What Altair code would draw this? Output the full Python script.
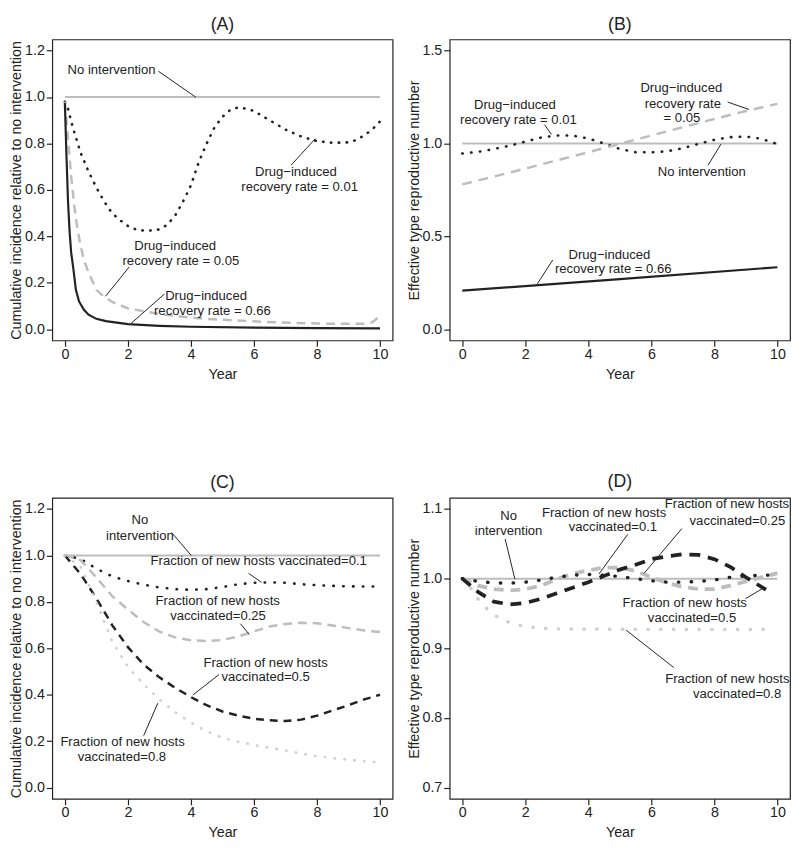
import altair as alt
import pandas as pd

FONT = "Liberation Sans"
INK = "#222222"
GREY = "#bdbdbd"
LIGHT = "#cfcfcf"

YEAR_TICKS = [0, 2, 4, 6, 8, 10]
X_DOMAIN = [-0.4, 10.4]

# ---------------- Panel A: cumulative incidence, drug treatment ----------------
A_none_x = [0, 10]
A_none_y = [1.0, 1.0]
A_r001_x = [0, 0.1, 0.25, 0.5, 0.75, 1.0, 1.25, 1.5, 1.75, 2.0, 2.25, 2.5, 2.75, 3.0, 3.25, 3.5,
            3.75, 4.0, 4.25, 4.5, 4.75, 5.0, 5.25, 5.5, 5.75, 6.0, 6.25, 6.5, 6.75, 7.0, 7.25, 7.5,
            7.75, 8.0, 8.5, 9.0, 9.25, 9.5, 9.75, 10.0]
A_r001_y = [0.98, 0.95, 0.87, 0.76, 0.68, 0.61, 0.55, 0.50, 0.47, 0.445, 0.43, 0.425, 0.425, 0.43,
            0.45, 0.49, 0.55, 0.62, 0.72, 0.80, 0.87, 0.915, 0.945, 0.955, 0.95, 0.94, 0.92, 0.90,
            0.88, 0.86, 0.845, 0.83, 0.82, 0.81, 0.803, 0.805, 0.815, 0.835, 0.86, 0.895]
A_r005_x = [0, 0.1, 0.2, 0.3, 0.4, 0.5, 0.6, 0.75, 1.0, 1.25, 1.5, 2.0, 2.5, 3.2, 4.25, 5.3, 6.35,
            7.4, 8.4, 9.45, 9.75, 10.0]
A_r005_y = [0.98, 0.82, 0.66, 0.53, 0.43, 0.36, 0.30, 0.245, 0.17, 0.14, 0.118, 0.09, 0.078, 0.062,
            0.047, 0.039, 0.032, 0.027, 0.024, 0.024, 0.03, 0.058]
A_r066_x = [0, 0.05, 0.1, 0.15, 0.2, 0.27, 0.35, 0.45, 0.6, 0.75, 1.0, 1.3, 2.0, 3.0, 4.0, 6.0, 8.0, 10.0]
A_r066_y = [0.975, 0.75, 0.55, 0.42, 0.33, 0.26, 0.17, 0.12, 0.085, 0.063, 0.045, 0.035, 0.022, 0.015,
            0.011, 0.007, 0.005, 0.004]
A_lbl_text = ["No intervention", "Drug−induced", "recovery rate = 0.01", "Drug−induced",
              "recovery rate = 0.05", "Drug−induced", "recovery rate = 0.66"]
A_lbl_x = [1.48, 7.33, 7.45, 3.5, 3.68, 4.48, 4.68]
A_lbl_y = [1.118, 0.676, 0.612, 0.358, 0.293, 0.145, 0.079]
A_ldr_x1 = [2.97, 7.95, 2.04, 3.16]
A_ldr_y1 = [1.111, 0.821, 0.268, 0.152]
A_ldr_x2 = [4.16, 7.18, 1.29, 2.09]
A_ldr_y2 = [0.999, 0.707, 0.142, 0.024]

# ---------------- Panel B: effective reproductive number, drug treatment ----------------
B_none_x = [0, 10]
B_none_y = [1.0, 1.0]
B_r001_x = [0, 0.5, 1, 1.5, 2, 2.5, 3, 3.5, 4, 4.5, 5, 5.5, 6, 6.5, 7, 7.5, 8, 8.5, 9, 9.5, 10]
B_r001_y = [0.946, 0.955, 0.97, 0.988, 1.01, 1.032, 1.043, 1.043, 1.027, 1.0, 0.971, 0.953, 0.952,
            0.958, 0.975, 0.998, 1.02, 1.034, 1.037, 1.025, 0.997]
B_r005_x = [0, 1, 2, 3, 4, 5, 6, 7, 8, 9, 10]
B_r005_y = [0.78, 0.822, 0.865, 0.909, 0.953, 0.998, 1.043, 1.088, 1.132, 1.175, 1.213]
B_r066_x = [0, 5, 10]
B_r066_y = [0.208, 0.27, 0.334]
B_lbl_text = ["Drug−induced", "recovery rate = 0.01", "Drug−induced", "recovery rate", "= 0.05",
              "No intervention", "Drug−induced", "recovery rate = 0.66"]
B_lbl_x = [1.67, 1.78, 6.95, 7.0, 6.97, 7.6, 4.67, 4.79]
B_lbl_y = [1.206, 1.124, 1.298, 1.214, 1.136, 0.845, 0.402, 0.322]
B_ldr_x1 = [2.61, 8.42, 7.8, 2.87]
B_ldr_y1 = [1.101, 1.223, 0.883, 0.373]
B_ldr_x2 = [2.83, 9.1, 8.21, 2.38]
B_ldr_y2 = [1.049, 1.183, 0.997, 0.244]

# ---------------- Panel C: cumulative incidence, vaccination ----------------
HALF = [0, 0.5, 1, 1.5, 2, 2.5, 3, 3.5, 4, 4.5, 5, 5.5, 6, 6.5, 7, 7.5, 8, 8.5, 9, 9.5, 10]
C_none_x = [0, 10]
C_none_y = [1.0, 1.0]
C_v01_y = [1.0, 0.985, 0.943, 0.91, 0.89, 0.874, 0.862, 0.855, 0.852, 0.855, 0.864, 0.876, 0.882,
           0.884, 0.882, 0.876, 0.872, 0.869, 0.867, 0.866, 0.866]
C_v025_y = [1.0, 0.98, 0.905, 0.825, 0.767, 0.713, 0.672, 0.647, 0.635, 0.631, 0.636, 0.651, 0.673,
            0.694, 0.705, 0.71, 0.708, 0.698, 0.687, 0.677, 0.67]
C_v05_y = [1.0, 0.92, 0.815, 0.70, 0.605, 0.53, 0.475, 0.43, 0.39, 0.355, 0.328, 0.31, 0.297, 0.29,
           0.287, 0.293, 0.31, 0.333, 0.355, 0.38, 0.40]
C_v08_y = [1.0, 0.95, 0.80, 0.63, 0.52, 0.445, 0.38, 0.325, 0.28, 0.243, 0.215, 0.198, 0.184, 0.171,
           0.16, 0.147, 0.135, 0.127, 0.12, 0.114, 0.109]
C_lbl_text = ["No", "intervention", "Fraction of new hosts vaccinated=0.1", "Fraction of new hosts",
              "vaccinated=0.25", "Fraction of new hosts", "vaccinated=0.5", "Fraction of new hosts",
              "vaccinated=0.8"]
C_lbl_x = [2.38, 2.38, 6.15, 4.85, 4.86, 6.37, 6.37, 1.83, 1.81]
C_lbl_y = [1.151, 1.084, 0.976, 0.804, 0.738, 0.538, 0.476, 0.196, 0.130]
C_ldr_x1 = [3.39, 5.83, 5.57, 4.89, 2.5]
C_ldr_y1 = [1.098, 0.923, 0.706, 0.487, 0.224]
C_ldr_x2 = [4.01, 6.24, 5.85, 4.06, 2.95]
C_ldr_y2 = [1.0, 0.884, 0.66, 0.399, 0.364]

# ---------------- Panel D: effective reproductive number, vaccination ----------------
D_none_x = [0, 10]
D_none_y = [1.0, 1.0]
D_v01_y = [1.0, 0.996, 0.994, 0.9935, 0.995, 0.998, 1.002, 1.005, 1.006, 1.005, 1.003, 1.0, 0.997,
           0.995, 0.995, 0.996, 0.998, 1.002, 1.004, 1.005, 1.005]
D_v025_y = [1.0, 0.99, 0.985, 0.983, 0.985, 0.99, 0.999, 1.007, 1.012, 1.016, 1.016, 1.011, 1.002,
            0.994, 0.988, 0.985, 0.985, 0.99, 0.996, 1.002, 1.008]
D_v05_x = [0, 0.5, 1, 1.5, 2, 2.5, 3, 3.5, 4, 4.5, 5, 5.5, 6, 6.5, 7, 7.5, 8, 8.5, 9, 9.5, 9.75]
D_v05_y = [1.0, 0.981, 0.967, 0.963, 0.965, 0.971, 0.979, 0.987, 0.995, 1.004, 1.013, 1.02, 1.028,
           1.032, 1.035, 1.034, 1.028, 1.017, 1.002, 0.988, 0.981]
D_v08_x = [0, 0.25, 0.5, 0.75, 1, 1.5, 2, 2.5, 3, 4, 6, 8, 9.7]
D_v08_y = [1.0, 0.988, 0.971, 0.958, 0.948, 0.937, 0.931, 0.929, 0.928, 0.9275, 0.9272, 0.927, 0.927]
D_lbl_text = ["No", "intervention", "Fraction of new hosts", "vaccinated=0.1", "Fraction of new hosts",
              "vaccinated=0.25", "Fraction of new hosts", "vaccinated=0.5", "Fraction of new hosts",
              "vaccinated=0.8"]
D_lbl_x = [1.47, 1.47, 4.5, 4.78, 8.4, 8.73, 7.06, 7.29, 8.41, 8.72]
D_lbl_y = [1.09, 1.068, 1.094, 1.074, 1.107, 1.083, 0.965, 0.944, 0.856, 0.834]
D_ldr_x1 = [1.36, 5.25, 6.97, 8.99, 6.71]
D_ldr_y1 = [1.057, 1.0636, 1.072, 0.9713, 0.8725]
D_ldr_x2 = [1.67, 4.34, 5.77, 9.56, 5.2]
D_ldr_y2 = [0.9993, 1.0068, 1.0077, 0.9867, 0.9261]

W, H = 346, 306


def panel(title, ydom, yticks, ytitle, series, lbl, ldr):
    xe = alt.X("x:Q", scale=alt.Scale(domain=X_DOMAIN, nice=False, zero=False),
               axis=alt.Axis(values=YEAR_TICKS, title="Year", format="d"))
    ye = alt.Y("y:Q", scale=alt.Scale(domain=ydom, nice=False, zero=False),
               axis=alt.Axis(values=yticks, title=ytitle, format=".1f"))
    layers = []
    for xs, ys, color, width, dash, cap in series:
        kw = dict(color=color, strokeWidth=width, strokeCap=cap)
        if dash:
            kw["strokeDash"] = dash
        layers.append(alt.Chart(pd.DataFrame({"x": xs, "y": ys})).mark_line(**kw).encode(x=xe, y=ye))
    x1, y1, x2, y2 = ldr
    layers.append(
        alt.Chart(pd.DataFrame({"x": x1, "y": y1, "x2": x2, "y2": y2}))
        .mark_rule(color=INK, strokeWidth=1)
        .encode(x=xe, y=ye, x2="x2:Q", y2="y2:Q")
    )
    t, tx, ty = lbl
    layers.append(
        alt.Chart(pd.DataFrame({"x": tx, "y": ty, "t": t}))
        .mark_text(font=FONT, fontSize=13.3, color=INK, align="center", baseline="middle")
        .encode(x=xe, y=ye, text="t:N")
    )
    return alt.layer(*layers).properties(
        width=W, height=H,
        title=alt.TitleParams(title, fontSize=18, fontWeight="normal", font=FONT, color=INK,
                              anchor="middle", frame="group", offset=6),
    )


CUM_TITLE = "Cumulative incidence relative to no intervention"
R_TITLE = "Effective type reproductive number"
TICKS_A = [0, 0.2, 0.4, 0.6, 0.8, 1.0, 1.2]

pA = panel("(A)", [-0.048, 1.248], TICKS_A, CUM_TITLE, [
    (A_none_x, A_none_y, GREY, 2, None, "butt"),
    (A_r001_x, A_r001_y, INK, 2.6, [0.5, 7.5], "round"),
    (A_r005_x, A_r005_y, GREY, 2.5, [9, 6], "butt"),
    (A_r066_x, A_r066_y, INK, 2.2, None, "butt"),
], (A_lbl_text, A_lbl_x, A_lbl_y), (A_ldr_x1, A_ldr_y1, A_ldr_x2, A_ldr_y2))

pB = panel("(B)", [-0.06, 1.56], [0, 0.5, 1.0, 1.5], R_TITLE, [
    (B_none_x, B_none_y, GREY, 2, None, "butt"),
    (B_r001_x, B_r001_y, INK, 2.6, [0.5, 8.5], "round"),
    (B_r005_x, B_r005_y, GREY, 2.5, [10, 7], "butt"),
    (B_r066_x, B_r066_y, INK, 2.2, None, "butt"),
], (B_lbl_text, B_lbl_x, B_lbl_y), (B_ldr_x1, B_ldr_y1, B_ldr_x2, B_ldr_y2))

pC = panel("(C)", [-0.048, 1.248], TICKS_A, CUM_TITLE, [
    (C_none_x, C_none_y, GREY, 2, None, "butt"),
    (HALF, C_v01_y, INK, 2.6, [0.5, 9.5], "round"),
    (HALF, C_v025_y, GREY, 2.5, [9, 6], "butt"),
    (HALF, C_v05_y, INK, 2.5, [8, 6], "butt"),
    (HALF, C_v08_y, LIGHT, 2.6, [0.5, 9.5], "round"),
], (C_lbl_text, C_lbl_x, C_lbl_y), (C_ldr_x1, C_ldr_y1, C_ldr_x2, C_ldr_y2))

pD = panel("(D)", [0.684, 1.116], [0.7, 0.8, 0.9, 1.0, 1.1], R_TITLE, [
    (D_none_x, D_none_y, GREY, 2, None, "butt"),
    (D_v08_x, D_v08_y, LIGHT, 3.4, [0.5, 12.5], "round"),
    (HALF, D_v025_y, GREY, 3.8, [10, 7], "butt"),
    (D_v05_x, D_v05_y, INK, 3.8, [11, 8], "butt"),
    (HALF, D_v01_y, INK, 3.4, [0.5, 12.5], "round"),
], (D_lbl_text, D_lbl_x, D_lbl_y), (D_ldr_x1, D_ldr_y1, D_ldr_x2, D_ldr_y2))

chart = (
    alt.vconcat(
        alt.hconcat(pA, pB, spacing=12),
        alt.hconcat(pC, pD, spacing=12),
        spacing=92,
    )
    .properties(padding={"left": 0, "top": 0, "right": 0, "bottom": 0})
    .configure_view(stroke=INK, strokeWidth=1.2)
    .configure_axis(
        domain=False, grid=False, tickColor=INK, tickWidth=1.2,
        labelFont=FONT, titleFont=FONT, labelFontSize=14.5, titleFontSize=14.5,
        labelColor=INK, titleColor=INK, titleFontWeight="normal",
    )
    .configure_axisX(tickSize=6, labelPadding=1, titlePadding=7)
    .configure_axisY(tickSize=6, labelPadding=2, labelAngle=0, titlePadding=1)
)

chart.save("out.html", embed_options={"renderer": "svg", "actions": False})
